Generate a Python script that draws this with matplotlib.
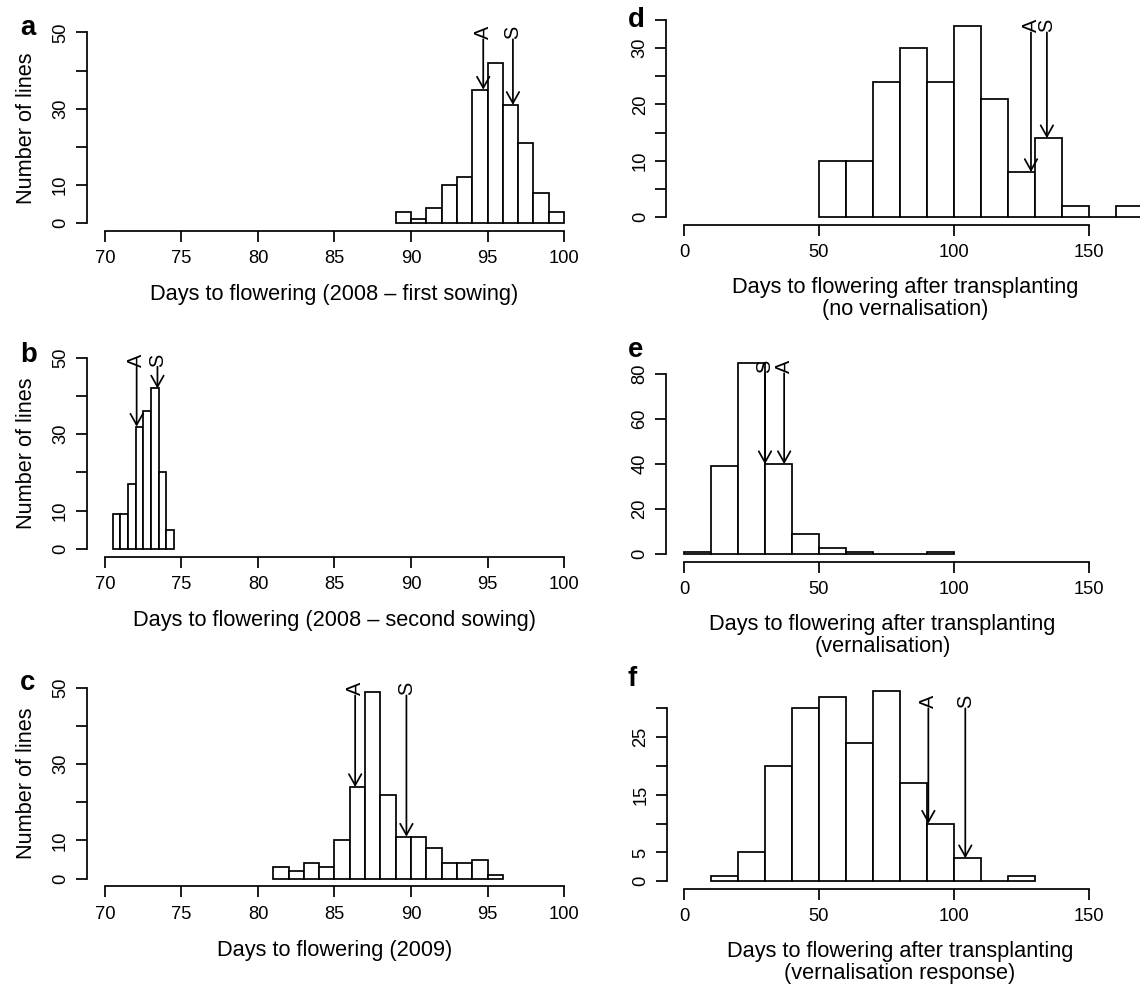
import matplotlib
matplotlib.use('Agg')
import matplotlib.pyplot as plt
import numpy as np

plt.rcParams['font.family'] = ['Liberation Sans', 'DejaVu Sans']

W, H = 1140, 986

# ---------------- data ----------------
a_edges = [89, 90, 91, 92, 93, 94, 95, 96, 97, 98, 99, 100]
a_counts = [3, 1, 4, 10, 12, 35, 42, 31, 21, 8, 3]
a_marks = {'A': 94.72, 'S': 96.66}

b_edges = [70.5, 71.0, 71.5, 72.0, 72.5, 73.0, 73.5, 74.0, 74.5]
b_counts = [9, 9, 17, 32, 36, 42, 20, 5]
b_marks = {'A': 72.07, 'S': 73.43}

c_edges = [81, 82, 83, 84, 85, 86, 87, 88, 89, 90, 91, 92, 93, 94, 95, 96]
c_counts = [3, 2, 4, 3, 10, 24, 49, 22, 11, 11, 8, 4, 4, 5, 1]
c_marks = {'A': 86.35, 'S': 89.7}

d_edges = [50, 60, 70, 80, 90, 100, 110, 120, 130, 140, 150, 160, 170]
d_counts = [10, 10, 24, 30, 24, 34, 21, 8, 14, 2, 0, 2]
d_marks = {'A': 128.6, 'S': 134.5}

e_edges = [0, 10, 20, 30, 40, 50, 60, 70, 80, 90, 100]
e_counts = [1, 39, 85, 40, 9, 3, 1, 0, 0, 1]
e_marks = {'S': 30.0, 'A': 37.1}

f_edges = [10, 20, 30, 40, 50, 60, 70, 80, 90, 100, 110, 120, 130]
f_counts = [1, 5, 20, 30, 32, 24, 33, 17, 10, 4, 0, 1]
f_marks = {'A': 90.6, 'S': 104.3}

left_xticks = [70, 75, 80, 85, 90, 95, 100]
right_xticks = [0, 50, 100, 150]
abc_yticks = [0, 10, 20, 30, 40, 50]
abc_ylabels = ['0', '10', '', '30', '', '50']
d_yticks = [0, 5, 10, 15, 20, 25, 30, 35]
d_ylabels = ['0', '', '10', '', '20', '', '30', '']
e_yticks = [0, 20, 40, 60, 80]
e_ylabels = ['0', '20', '40', '60', '80']
f_yticks = [0, 5, 10, 15, 20, 25, 30]
f_ylabels = ['0', '5', '', '15', '', '25', '']

xlabels = {
    'a': 'Days to flowering (2008 \u2013 first sowing)',
    'b': 'Days to flowering (2008 \u2013 second sowing)',
    'c': 'Days to flowering (2009)',
    'd': 'Days to flowering after transplanting\n(no vernalisation)',
    'e': 'Days to flowering after transplanting\n(vernalisation)',
    'f': 'Days to flowering after transplanting\n(vernalisation response)',
}

# ---------------- layout (pixels) ----------------
panels = {
    'a': (a_edges, a_counts, a_marks, (68.8, 101.2), (-2, 52), 86.6, 582.4, 24.7, 230.9,
          left_xticks, abc_yticks, abc_ylabels, 48.2, (20, 35)),
    'b': (b_edges, b_counts, b_marks, (68.8, 101.2), (-2, 52), 86.6, 582.4, 350.3, 556.5,
          left_xticks, abc_yticks, abc_ylabels, 47.7, (20, 362)),
    'c': (c_edges, c_counts, c_marks, (68.8, 101.2), (-2, 52), 86.6, 582.4, 680.1, 886.3,
          left_xticks, abc_yticks, abc_ylabels, 48.0, (20, 690)),
    'd': (d_edges, d_counts, d_marks, (-6.56, 170.56), (-1.4, 36.4), 666.3, 1144.2, 12.1, 224.9,
          right_xticks, d_yticks, d_ylabels, 32.8, (628, 27)),
    'e': (e_edges, e_counts, e_marks, (-6.8, 153.8), (-3.4, 88.4), 665.7, 1099.0, 355.0, 562.0,
          right_xticks, e_yticks, e_ylabels, 80.3, (628, 357)),
    'f': (f_edges, f_counts, f_marks, (-6.4, 166.4), (-1.32, 34.32), 666.7, 1132.8, 683.4, 888.9,
          right_xticks, f_yticks, f_ylabels, 30.0, (628, 686)),
}

TICK_FS = 13.2
LAB_FS = 15.7
LET_FS = 19.8
MARK_FS = 14.3
LW = 1.25
TICKLEN = 7.9

fig = plt.figure(figsize=(W / 100, H / 100), dpi=100)
fig.patch.set_facecolor('white')


def fx(px):
    return px / W


def fy(py):
    return 1 - py / H


for key, (edges, counts, marks, xlim, ylim, x0, x1, y0, y1,
          xt, yt, ytl, atop, letpos) in panels.items():
    ax = fig.add_axes([x0 / W, 1 - y1 / H, (x1 - x0) / W, (y1 - y0) / H])
    ax.set_facecolor('none')
    edges_a = np.asarray(edges, dtype=float)
    ax.bar(edges_a[:-1], counts, width=np.diff(edges_a), align='edge',
           facecolor='white', edgecolor='black', linewidth=LW, clip_on=False)
    ax.set_xlim(*xlim)
    ax.set_ylim(*ylim)
    for s in ('top', 'right'):
        ax.spines[s].set_visible(False)
    for s in ('left', 'bottom'):
        ax.spines[s].set_linewidth(LW)
    ax.spines['bottom'].set_bounds(xt[0], xt[-1])
    ax.spines['left'].set_bounds(yt[0], yt[-1])
    ax.set_xticks(xt)
    ax.set_xticklabels([str(v) for v in xt])
    ax.set_yticks(yt)
    ax.set_yticklabels(ytl)
    ax.tick_params(axis='both', direction='out', length=TICKLEN, width=LW,
                   labelsize=TICK_FS, colors='black')
    ax.tick_params(axis='x', pad=6.0)
    ax.tick_params(axis='y', pad=4.7)
    for lab in ax.get_yticklabels():
        lab.set_rotation(90)
        lab.set_va('center')
        lab.set_ha('right')

    # arrows and labels
    for name, xv in marks.items():
        idx = int(np.searchsorted(edges_a, xv, side='right') - 1)
        tip = counts[idx]
        ax.annotate('', xy=(xv, tip), xytext=(xv, atop),
                    arrowprops=dict(arrowstyle='->,head_length=0.8,head_width=0.45',
                                    color='black', lw=LW, shrinkA=0, shrinkB=0,
                                    mutation_scale=10),
                    annotation_clip=False)
        ax.text(xv, atop, name, rotation=90, rotation_mode='anchor',
                ha='left', va='center', fontsize=MARK_FS, clip_on=False)

    # x label
    xc = (x0 + x1) / 2
    if '\n' in xlabels[key]:
        fig.text(fx(xc), fy(y1 + 73.5), xlabels[key], ha='center', va='center',
                 fontsize=LAB_FS, linespacing=1.05)
    else:
        fig.text(fx(xc), fy(y1 + 64), xlabels[key], ha='center', va='center',
                 fontsize=LAB_FS)

    # y label (left column only)
    if key in ('a', 'b', 'c'):
        fig.text(fx(27), fy((y0 + y1) / 2), 'Number of lines', rotation=90,
                 ha='center', va='center', fontsize=LAB_FS)

    # panel letter
    fig.text(fx(letpos[0]), fy(letpos[1]), key, ha='left', va='baseline',
             fontsize=LET_FS, fontweight='bold')

fig.savefig('out.png', dpi=100, facecolor='white')
